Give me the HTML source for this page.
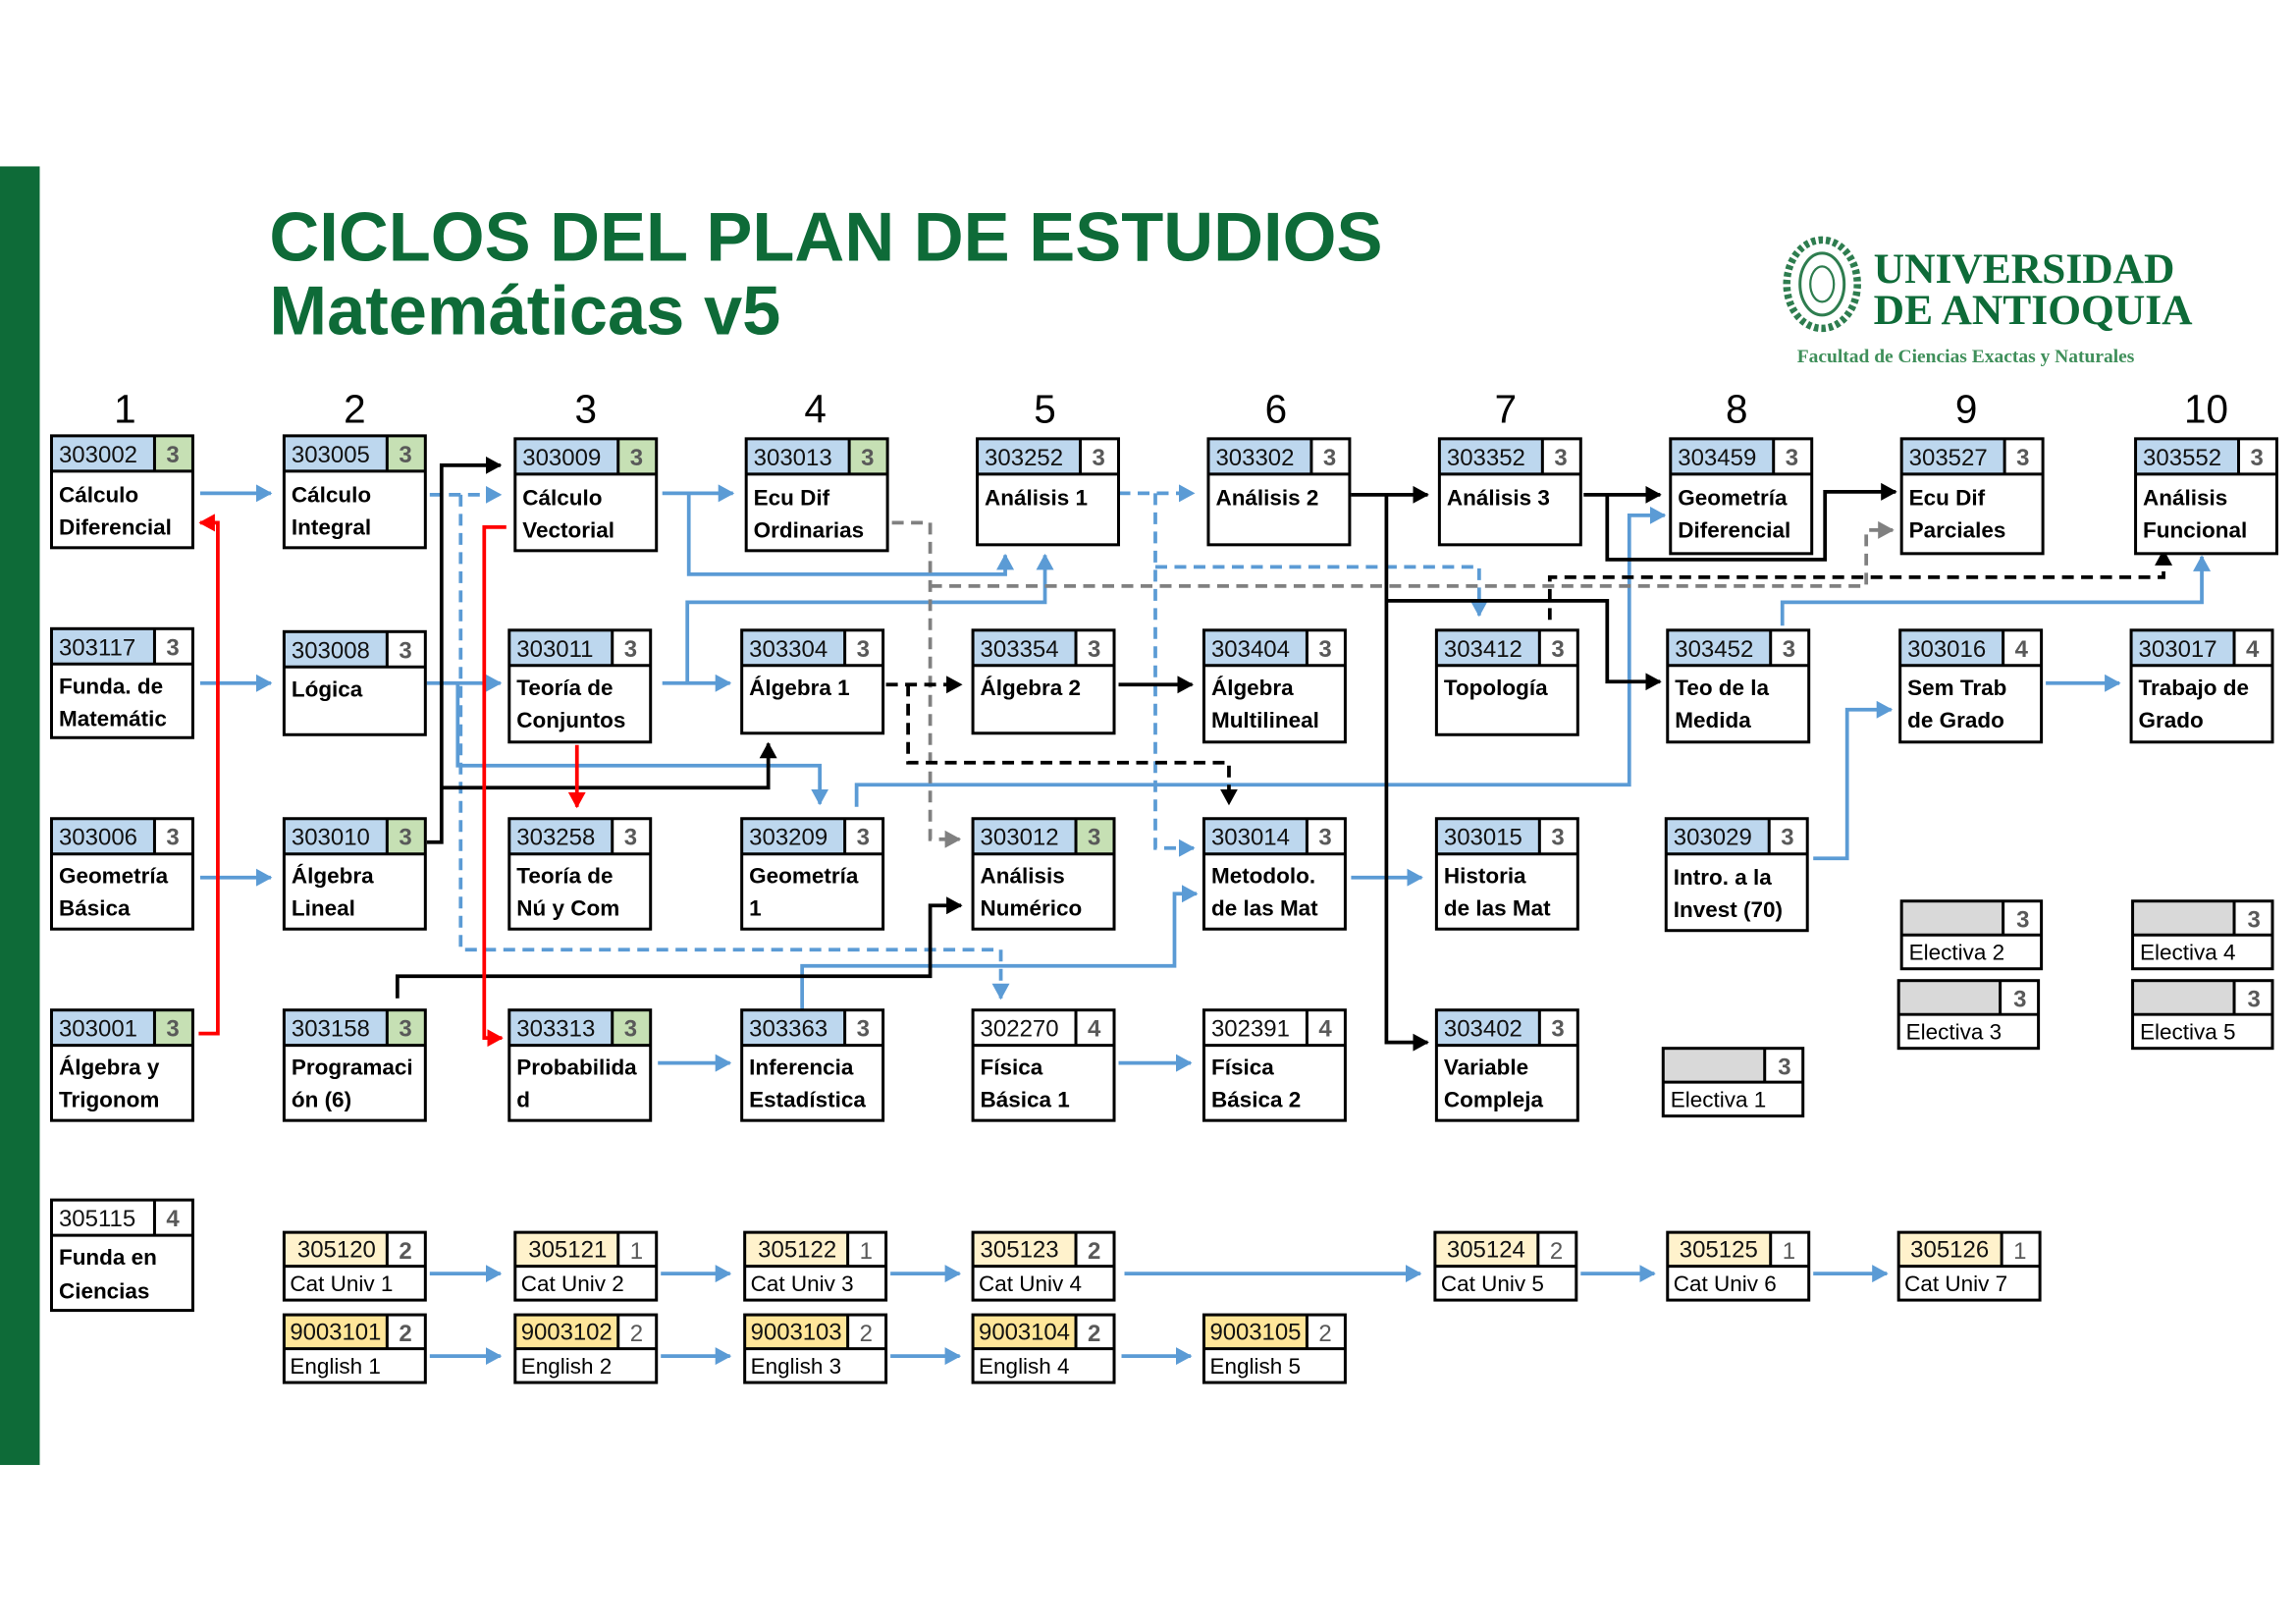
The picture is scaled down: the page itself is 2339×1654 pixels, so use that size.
<!DOCTYPE html>
<html><head><meta charset="utf-8"><style>
html,body{margin:0;padding:0;background:#fff;}
svg{display:block;}
.c{font:16px "Liberation Sans",sans-serif;fill:#111;}
.n{font:bold 16px "Liberation Sans",sans-serif;fill:#595959;}
.nn{font:16px "Liberation Sans",sans-serif;fill:#595959;}
.t{font:bold 15px "Liberation Sans",sans-serif;fill:#000;}
.tn{font:15px "Liberation Sans",sans-serif;fill:#000;}
.o{fill:none;stroke:#000;stroke-width:2;}
.bl{fill:none;stroke:#5b9bd5;stroke-width:2.5;}
.bd{fill:none;stroke:#5b9bd5;stroke-width:2.5;stroke-dasharray:8 5;}
.k{fill:none;stroke:#000;stroke-width:2.5;}
.kd{fill:none;stroke:#000;stroke-width:2.5;stroke-dasharray:8 5;}
.gd{fill:none;stroke:#808080;stroke-width:2.5;stroke-dasharray:8 5;}
.r{fill:none;stroke:#ff0000;stroke-width:2.5;}
</style></head><body>
<svg width="2339" height="1654" viewBox="0 0 1560 1103" preserveAspectRatio="none" xmlns="http://www.w3.org/2000/svg">
<defs>
<marker id="ab" markerUnits="userSpaceOnUse" markerWidth="12" markerHeight="12" refX="10" refY="6" orient="auto"><path d="M0 0L11 6L0 12z" fill="#5b9bd5"/></marker>
<marker id="ak" markerUnits="userSpaceOnUse" markerWidth="12" markerHeight="12" refX="10" refY="6" orient="auto"><path d="M0 0L11 6L0 12z" fill="#000"/></marker>
<marker id="ag" markerUnits="userSpaceOnUse" markerWidth="12" markerHeight="12" refX="10" refY="6" orient="auto"><path d="M0 0L11 6L0 12z" fill="#808080"/></marker>
<marker id="ar" markerUnits="userSpaceOnUse" markerWidth="12" markerHeight="12" refX="10" refY="6" orient="auto"><path d="M0 0L11 6L0 12z" fill="#ff0000"/></marker>
</defs>
<rect x="0" y="113" width="27" height="882" fill="#0e6b38"/>
<text x="183" y="177" style="font:bold 47px 'Liberation Sans',sans-serif;fill:#0e6b38">CICLOS DEL PLAN DE ESTUDIOS</text>
<text x="183" y="227" style="font:bold 47px 'Liberation Sans',sans-serif;fill:#0e6b38">Matemáticas v5</text>
<!-- logo -->
<g transform="translate(1238,193)"><ellipse cx="0" cy="0" rx="24" ry="30" fill="none" stroke="#2e7d4f" stroke-width="5" stroke-dasharray="3 2"/><ellipse cx="0" cy="0" rx="15" ry="21" fill="none" stroke="#2e7d4f" stroke-width="2"/><ellipse cx="0" cy="0" rx="8" ry="12" fill="none" stroke="#2e7d4f" stroke-width="1.5"/></g>
<text x="1273" y="192" style="font:bold 29px 'Liberation Serif',serif;fill:#0e6b38">UNIVERSIDAD</text>
<text x="1273" y="220" style="font:bold 29px 'Liberation Serif',serif;fill:#0e6b38">DE ANTIOQUIA</text>
<text x="1221" y="246" style="font:bold 13px 'Liberation Serif',serif;fill:#3f8f5a">Facultad de Ciencias Exactas y Naturales</text>
<!-- column numbers -->
<g style="font:27px 'Liberation Sans',sans-serif;fill:#000" text-anchor="middle">
<text x="85" y="287">1</text><text x="241" y="287">2</text><text x="398" y="287">3</text><text x="554" y="287">4</text><text x="710" y="287">5</text><text x="867" y="287">6</text><text x="1023" y="287">7</text><text x="1180" y="287">8</text><text x="1336" y="287">9</text><text x="1499" y="287">10</text>
</g>

<!-- CONNECTORS -->
<path class="bl" d="M136 335H184" marker-end="url(#ab)"/>
<path class="bl" d="M136 464H184" marker-end="url(#ab)"/>
<path class="bl" d="M136 596H184" marker-end="url(#ab)"/>
<path class="bl" d="M290 464H340" marker-end="url(#ab)"/>
<path class="bl" d="M311 464V520H557V546" marker-end="url(#ab)"/>
<path class="bl" d="M450 335H498" marker-end="url(#ab)"/>
<path class="bl" d="M468 335V390H683V377" marker-end="url(#ab)"/>
<path class="bl" d="M450 464H496" marker-end="url(#ab)"/>
<path class="bl" d="M467 464V409H710V377" marker-end="url(#ab)"/>
<path class="bl" d="M582 548V533H1107V350H1131" marker-end="url(#ab)"/>
<path class="bl" d="M545 686V656H798V607H813" marker-end="url(#ab)"/>
<path class="bl" d="M918 596H966" marker-end="url(#ab)"/>
<path class="bl" d="M447 722H496" marker-end="url(#ab)"/>
<path class="bl" d="M760 722H809" marker-end="url(#ab)"/>
<path class="bl" d="M1211 425V409H1496V378" marker-end="url(#ab)"/>
<path class="bl" d="M1232 583H1255V482H1285" marker-end="url(#ab)"/>
<path class="bl" d="M1390 464H1440" marker-end="url(#ab)"/>
<path class="bd" d="M292 336H340" marker-end="url(#ab)"/>
<path class="bd" d="M313 336V645H680V678" marker-end="url(#ab)"/>
<path class="bd" d="M760 335H811" marker-end="url(#ab)"/>
<path class="bd" d="M785 335V576H811" marker-end="url(#ab)"/>
<path class="bd" d="M785 385H1005V418" marker-end="url(#ab)"/>
<path class="gd" d="M606 355H632V570H652" marker-end="url(#ag)"/>
<path class="gd" d="M632 398H1268V360H1286" marker-end="url(#ag)"/>
<path class="k" d="M290 572H300V316H340" marker-end="url(#ak)"/>
<path class="k" d="M300 535H522V505" marker-end="url(#ak)"/>
<path class="k" d="M270 678V663H632V615H653" marker-end="url(#ak)"/>
<path class="k" d="M760 465H810" marker-end="url(#ak)"/>
<path class="k" d="M918 336H970" marker-end="url(#ak)"/>
<path class="k" d="M942 336V708H970" marker-end="url(#ak)"/>
<path class="k" d="M942 408H1092V463H1128" marker-end="url(#ak)"/>
<path class="k" d="M1076 336H1128" marker-end="url(#ak)"/>
<path class="k" d="M1092 336V380H1240V334H1288" marker-end="url(#ak)"/>
<path class="kd" d="M602 465H653" marker-end="url(#ak)"/>
<path class="kd" d="M617 465V518H835V546" marker-end="url(#ak)"/>
<path class="kd" d="M1053 421V392H1470V374" marker-end="url(#ak)"/>
<path class="r" d="M135 702H148V355H136" marker-end="url(#ar)"/>
<path class="r" d="M344 358H329V705H341" marker-end="url(#ar)"/>
<path class="r" d="M392 506V548" marker-end="url(#ar)"/>
<!-- bottom chains -->
<path class="bl" d="M292 865H340" marker-end="url(#ab)"/>
<path class="bl" d="M449 865H496" marker-end="url(#ab)"/>
<path class="bl" d="M605 865H652" marker-end="url(#ab)"/>
<path class="bl" d="M764 865H965" marker-end="url(#ab)"/>
<path class="bl" d="M1074 865H1124" marker-end="url(#ab)"/>
<path class="bl" d="M1232 865H1282" marker-end="url(#ab)"/>
<path class="bl" d="M292 921H340" marker-end="url(#ab)"/>
<path class="bl" d="M449 921H496" marker-end="url(#ab)"/>
<path class="bl" d="M605 921H652" marker-end="url(#ab)"/>
<path class="bl" d="M762 921H809" marker-end="url(#ab)"/>

<!-- BOXES -->
<g transform="translate(35,296)"><rect width="96" height="76" fill="#fff"/><rect width="70" height="24" fill="#bdd7ee"/><rect x="70" width="26" height="24" fill="#c6e0b4"/><path d="M0 24H96M70 0V24" class="o"/><rect width="96" height="76" class="o"/><text x="5" y="18" class="c">303002</text><text x="78" y="18" class="n">3</text><text x="5" y="45" class="t">Cálculo</text><text x="5" y="67" class="t">Diferencial</text></g>
<g transform="translate(193,296)"><rect width="96" height="76" fill="#fff"/><rect width="70" height="24" fill="#bdd7ee"/><rect x="70" width="26" height="24" fill="#c6e0b4"/><path d="M0 24H96M70 0V24" class="o"/><rect width="96" height="76" class="o"/><text x="5" y="18" class="c">303005</text><text x="78" y="18" class="n">3</text><text x="5" y="45" class="t">Cálculo</text><text x="5" y="67" class="t">Integral</text></g>
<g transform="translate(350,298)"><rect width="96" height="76" fill="#fff"/><rect width="70" height="24" fill="#bdd7ee"/><rect x="70" width="26" height="24" fill="#c6e0b4"/><path d="M0 24H96M70 0V24" class="o"/><rect width="96" height="76" class="o"/><text x="5" y="18" class="c">303009</text><text x="78" y="18" class="n">3</text><text x="5" y="45" class="t">Cálculo</text><text x="5" y="67" class="t">Vectorial</text></g>
<g transform="translate(507,298)"><rect width="96" height="76" fill="#fff"/><rect width="70" height="24" fill="#bdd7ee"/><rect x="70" width="26" height="24" fill="#c6e0b4"/><path d="M0 24H96M70 0V24" class="o"/><rect width="96" height="76" class="o"/><text x="5" y="18" class="c">303013</text><text x="78" y="18" class="n">3</text><text x="5" y="45" class="t">Ecu Dif</text><text x="5" y="67" class="t">Ordinarias</text></g>
<g transform="translate(664,298)"><rect width="96" height="72" fill="#fff"/><rect width="70" height="24" fill="#bdd7ee"/><rect x="70" width="26" height="24" fill="#fff"/><path d="M0 24H96M70 0V24" class="o"/><rect width="96" height="72" class="o"/><text x="5" y="18" class="c">303252</text><text x="78" y="18" class="n">3</text><text x="5" y="45" class="t">Análisis 1</text></g>
<g transform="translate(821,298)"><rect width="96" height="72" fill="#fff"/><rect width="70" height="24" fill="#bdd7ee"/><rect x="70" width="26" height="24" fill="#fff"/><path d="M0 24H96M70 0V24" class="o"/><rect width="96" height="72" class="o"/><text x="5" y="18" class="c">303302</text><text x="78" y="18" class="n">3</text><text x="5" y="45" class="t">Análisis 2</text></g>
<g transform="translate(978,298)"><rect width="96" height="72" fill="#fff"/><rect width="70" height="24" fill="#bdd7ee"/><rect x="70" width="26" height="24" fill="#fff"/><path d="M0 24H96M70 0V24" class="o"/><rect width="96" height="72" class="o"/><text x="5" y="18" class="c">303352</text><text x="78" y="18" class="n">3</text><text x="5" y="45" class="t">Análisis 3</text></g>
<g transform="translate(1135,298)"><rect width="96" height="78" fill="#fff"/><rect width="70" height="24" fill="#bdd7ee"/><rect x="70" width="26" height="24" fill="#fff"/><path d="M0 24H96M70 0V24" class="o"/><rect width="96" height="78" class="o"/><text x="5" y="18" class="c">303459</text><text x="78" y="18" class="n">3</text><text x="5" y="45" class="t">Geometría</text><text x="5" y="67" class="t">Diferencial</text></g>
<g transform="translate(1292,298)"><rect width="96" height="78" fill="#fff"/><rect width="70" height="24" fill="#bdd7ee"/><rect x="70" width="26" height="24" fill="#fff"/><path d="M0 24H96M70 0V24" class="o"/><rect width="96" height="78" class="o"/><text x="5" y="18" class="c">303527</text><text x="78" y="18" class="n">3</text><text x="5" y="45" class="t">Ecu Dif</text><text x="5" y="67" class="t">Parciales</text></g>
<g transform="translate(1451,298)"><rect width="96" height="78" fill="#fff"/><rect width="70" height="24" fill="#bdd7ee"/><rect x="70" width="26" height="24" fill="#fff"/><path d="M0 24H96M70 0V24" class="o"/><rect width="96" height="78" class="o"/><text x="5" y="18" class="c">303552</text><text x="78" y="18" class="n">3</text><text x="5" y="45" class="t">Análisis</text><text x="5" y="67" class="t">Funcional</text></g>

<g transform="translate(35,427)"><rect width="96" height="74" fill="#fff"/><rect width="70" height="24" fill="#bdd7ee"/><rect x="70" width="26" height="24" fill="#fff"/><path d="M0 24H96M70 0V24" class="o"/><rect width="96" height="74" class="o"/><text x="5" y="18" class="c">303117</text><text x="78" y="18" class="n">3</text><text x="5" y="44" class="t">Funda. de</text><text x="5" y="66" class="t">Matemátic</text></g>
<g transform="translate(193,429)"><rect width="96" height="70" fill="#fff"/><rect width="70" height="24" fill="#bdd7ee"/><rect x="70" width="26" height="24" fill="#fff"/><path d="M0 24H96M70 0V24" class="o"/><rect width="96" height="70" class="o"/><text x="5" y="18" class="c">303008</text><text x="78" y="18" class="n">3</text><text x="5" y="44" class="t">Lógica</text></g>
<g transform="translate(346,428)"><rect width="96" height="76" fill="#fff"/><rect width="70" height="24" fill="#bdd7ee"/><rect x="70" width="26" height="24" fill="#fff"/><path d="M0 24H96M70 0V24" class="o"/><rect width="96" height="76" class="o"/><text x="5" y="18" class="c">303011</text><text x="78" y="18" class="n">3</text><text x="5" y="44" class="t">Teoría de</text><text x="5" y="66" class="t">Conjuntos</text></g>
<g transform="translate(504,428)"><rect width="96" height="70" fill="#fff"/><rect width="70" height="24" fill="#bdd7ee"/><rect x="70" width="26" height="24" fill="#fff"/><path d="M0 24H96M70 0V24" class="o"/><rect width="96" height="70" class="o"/><text x="5" y="18" class="c">303304</text><text x="78" y="18" class="n">3</text><text x="5" y="44" class="t">Álgebra 1</text></g>
<g transform="translate(661,428)"><rect width="96" height="70" fill="#fff"/><rect width="70" height="24" fill="#bdd7ee"/><rect x="70" width="26" height="24" fill="#fff"/><path d="M0 24H96M70 0V24" class="o"/><rect width="96" height="70" class="o"/><text x="5" y="18" class="c">303354</text><text x="78" y="18" class="n">3</text><text x="5" y="44" class="t">Álgebra 2</text></g>
<g transform="translate(818,428)"><rect width="96" height="76" fill="#fff"/><rect width="70" height="24" fill="#bdd7ee"/><rect x="70" width="26" height="24" fill="#fff"/><path d="M0 24H96M70 0V24" class="o"/><rect width="96" height="76" class="o"/><text x="5" y="18" class="c">303404</text><text x="78" y="18" class="n">3</text><text x="5" y="44" class="t">Álgebra</text><text x="5" y="66" class="t">Multilineal</text></g>
<g transform="translate(976,428)"><rect width="96" height="71" fill="#fff"/><rect width="70" height="24" fill="#bdd7ee"/><rect x="70" width="26" height="24" fill="#fff"/><path d="M0 24H96M70 0V24" class="o"/><rect width="96" height="71" class="o"/><text x="5" y="18" class="c">303412</text><text x="78" y="18" class="n">3</text><text x="5" y="44" class="t">Topología</text></g>
<g transform="translate(1133,428)"><rect width="96" height="76" fill="#fff"/><rect width="70" height="24" fill="#bdd7ee"/><rect x="70" width="26" height="24" fill="#fff"/><path d="M0 24H96M70 0V24" class="o"/><rect width="96" height="76" class="o"/><text x="5" y="18" class="c">303452</text><text x="78" y="18" class="n">3</text><text x="5" y="44" class="t">Teo de la</text><text x="5" y="66" class="t">Medida</text></g>
<g transform="translate(1291,428)"><rect width="96" height="76" fill="#fff"/><rect width="70" height="24" fill="#bdd7ee"/><rect x="70" width="26" height="24" fill="#fff"/><path d="M0 24H96M70 0V24" class="o"/><rect width="96" height="76" class="o"/><text x="5" y="18" class="c">303016</text><text x="78" y="18" class="n">4</text><text x="5" y="44" class="t">Sem Trab</text><text x="5" y="66" class="t">de Grado</text></g>
<g transform="translate(1448,428)"><rect width="96" height="76" fill="#fff"/><rect width="70" height="24" fill="#bdd7ee"/><rect x="70" width="26" height="24" fill="#fff"/><path d="M0 24H96M70 0V24" class="o"/><rect width="96" height="76" class="o"/><text x="5" y="18" class="c">303017</text><text x="78" y="18" class="n">4</text><text x="5" y="44" class="t">Trabajo de</text><text x="5" y="66" class="t">Grado</text></g>

<g transform="translate(35,556)"><rect width="96" height="75" fill="#fff"/><rect width="70" height="24" fill="#bdd7ee"/><rect x="70" width="26" height="24" fill="#fff"/><path d="M0 24H96M70 0V24" class="o"/><rect width="96" height="75" class="o"/><text x="5" y="18" class="c">303006</text><text x="78" y="18" class="n">3</text><text x="5" y="44" class="t">Geometría</text><text x="5" y="66" class="t">Básica</text></g>
<g transform="translate(193,556)"><rect width="96" height="75" fill="#fff"/><rect width="70" height="24" fill="#bdd7ee"/><rect x="70" width="26" height="24" fill="#c6e0b4"/><path d="M0 24H96M70 0V24" class="o"/><rect width="96" height="75" class="o"/><text x="5" y="18" class="c">303010</text><text x="78" y="18" class="n">3</text><text x="5" y="44" class="t">Álgebra</text><text x="5" y="66" class="t">Lineal</text></g>
<g transform="translate(346,556)"><rect width="96" height="75" fill="#fff"/><rect width="70" height="24" fill="#bdd7ee"/><rect x="70" width="26" height="24" fill="#fff"/><path d="M0 24H96M70 0V24" class="o"/><rect width="96" height="75" class="o"/><text x="5" y="18" class="c">303258</text><text x="78" y="18" class="n">3</text><text x="5" y="44" class="t">Teoría de</text><text x="5" y="66" class="t">Nú y Com</text></g>
<g transform="translate(504,556)"><rect width="96" height="75" fill="#fff"/><rect width="70" height="24" fill="#bdd7ee"/><rect x="70" width="26" height="24" fill="#fff"/><path d="M0 24H96M70 0V24" class="o"/><rect width="96" height="75" class="o"/><text x="5" y="18" class="c">303209</text><text x="78" y="18" class="n">3</text><text x="5" y="44" class="t">Geometría</text><text x="5" y="66" class="t">1</text></g>
<g transform="translate(661,556)"><rect width="96" height="75" fill="#fff"/><rect width="70" height="24" fill="#bdd7ee"/><rect x="70" width="26" height="24" fill="#c6e0b4"/><path d="M0 24H96M70 0V24" class="o"/><rect width="96" height="75" class="o"/><text x="5" y="18" class="c">303012</text><text x="78" y="18" class="n">3</text><text x="5" y="44" class="t">Análisis</text><text x="5" y="66" class="t">Numérico</text></g>
<g transform="translate(818,556)"><rect width="96" height="75" fill="#fff"/><rect width="70" height="24" fill="#bdd7ee"/><rect x="70" width="26" height="24" fill="#fff"/><path d="M0 24H96M70 0V24" class="o"/><rect width="96" height="75" class="o"/><text x="5" y="18" class="c">303014</text><text x="78" y="18" class="n">3</text><text x="5" y="44" class="t">Metodolo.</text><text x="5" y="66" class="t">de las Mat</text></g>
<g transform="translate(976,556)"><rect width="96" height="75" fill="#fff"/><rect width="70" height="24" fill="#bdd7ee"/><rect x="70" width="26" height="24" fill="#fff"/><path d="M0 24H96M70 0V24" class="o"/><rect width="96" height="75" class="o"/><text x="5" y="18" class="c">303015</text><text x="78" y="18" class="n">3</text><text x="5" y="44" class="t">Historia</text><text x="5" y="66" class="t">de las Mat</text></g>
<g transform="translate(1132,556)"><rect width="96" height="76" fill="#fff"/><rect width="70" height="24" fill="#bdd7ee"/><rect x="70" width="26" height="24" fill="#fff"/><path d="M0 24H96M70 0V24" class="o"/><rect width="96" height="76" class="o"/><text x="5" y="18" class="c">303029</text><text x="78" y="18" class="n">3</text><text x="5" y="45" class="t">Intro. a la</text><text x="5" y="67" class="t">Invest (70)</text></g>

<!-- electivas -->
<g transform="translate(1292,612)"><rect width="95" height="46" fill="#fff"/><rect width="69" height="23" fill="#d9d9d9"/><path d="M0 23H95M69 0V23" class="o"/><rect width="95" height="46" class="o"/><text x="78" y="18" class="n">3</text><text x="5" y="40" class="tn">Electiva 2</text></g>
<g transform="translate(1449,612)"><rect width="95" height="46" fill="#fff"/><rect width="69" height="23" fill="#d9d9d9"/><path d="M0 23H95M69 0V23" class="o"/><rect width="95" height="46" class="o"/><text x="78" y="18" class="n">3</text><text x="5" y="40" class="tn">Electiva 4</text></g>
<g transform="translate(1290,666)"><rect width="95" height="46" fill="#fff"/><rect width="69" height="23" fill="#d9d9d9"/><path d="M0 23H95M69 0V23" class="o"/><rect width="95" height="46" class="o"/><text x="78" y="18" class="n">3</text><text x="5" y="40" class="tn">Electiva 3</text></g>
<g transform="translate(1449,666)"><rect width="95" height="46" fill="#fff"/><rect width="69" height="23" fill="#d9d9d9"/><path d="M0 23H95M69 0V23" class="o"/><rect width="95" height="46" class="o"/><text x="78" y="18" class="n">3</text><text x="5" y="40" class="tn">Electiva 5</text></g>
<g transform="translate(1130,712)"><rect width="95" height="46" fill="#fff"/><rect width="69" height="23" fill="#d9d9d9"/><path d="M0 23H95M69 0V23" class="o"/><rect width="95" height="46" class="o"/><text x="78" y="18" class="n">3</text><text x="5" y="40" class="tn">Electiva 1</text></g>

<g transform="translate(35,686)"><rect width="96" height="75" fill="#fff"/><rect width="70" height="24" fill="#bdd7ee"/><rect x="70" width="26" height="24" fill="#c6e0b4"/><path d="M0 24H96M70 0V24" class="o"/><rect width="96" height="75" class="o"/><text x="5" y="18" class="c">303001</text><text x="78" y="18" class="n">3</text><text x="5" y="44" class="t">Álgebra y</text><text x="5" y="66" class="t">Trigonom</text></g>
<g transform="translate(193,686)"><rect width="96" height="75" fill="#fff"/><rect width="70" height="24" fill="#bdd7ee"/><rect x="70" width="26" height="24" fill="#c6e0b4"/><path d="M0 24H96M70 0V24" class="o"/><rect width="96" height="75" class="o"/><text x="5" y="18" class="c">303158</text><text x="78" y="18" class="n">3</text><text x="5" y="44" class="t">Programaci</text><text x="5" y="66" class="t">ón (6)</text></g>
<g transform="translate(346,686)"><rect width="96" height="75" fill="#fff"/><rect width="70" height="24" fill="#bdd7ee"/><rect x="70" width="26" height="24" fill="#c6e0b4"/><path d="M0 24H96M70 0V24" class="o"/><rect width="96" height="75" class="o"/><text x="5" y="18" class="c">303313</text><text x="78" y="18" class="n">3</text><text x="5" y="44" class="t">Probabilida</text><text x="5" y="66" class="t">d</text></g>
<g transform="translate(504,686)"><rect width="96" height="75" fill="#fff"/><rect width="70" height="24" fill="#bdd7ee"/><rect x="70" width="26" height="24" fill="#fff"/><path d="M0 24H96M70 0V24" class="o"/><rect width="96" height="75" class="o"/><text x="5" y="18" class="c">303363</text><text x="78" y="18" class="n">3</text><text x="5" y="44" class="t">Inferencia</text><text x="5" y="66" class="t">Estadística</text></g>
<g transform="translate(661,686)"><rect width="96" height="75" fill="#fff"/><path d="M0 24H96M70 0V24" class="o"/><rect width="96" height="75" class="o"/><text x="5" y="18" class="c">302270</text><text x="78" y="18" class="n">4</text><text x="5" y="44" class="t">Física</text><text x="5" y="66" class="t">Básica 1</text></g>
<g transform="translate(818,686)"><rect width="96" height="75" fill="#fff"/><path d="M0 24H96M70 0V24" class="o"/><rect width="96" height="75" class="o"/><text x="5" y="18" class="c">302391</text><text x="78" y="18" class="n">4</text><text x="5" y="44" class="t">Física</text><text x="5" y="66" class="t">Básica 2</text></g>
<g transform="translate(976,686)"><rect width="96" height="75" fill="#fff"/><rect width="70" height="24" fill="#bdd7ee"/><rect x="70" width="26" height="24" fill="#fff"/><path d="M0 24H96M70 0V24" class="o"/><rect width="96" height="75" class="o"/><text x="5" y="18" class="c">303402</text><text x="78" y="18" class="n">3</text><text x="5" y="44" class="t">Variable</text><text x="5" y="66" class="t">Compleja</text></g>

<g transform="translate(35,815)"><rect width="96" height="75" fill="#fff"/><path d="M0 24H96M70 0V24" class="o"/><rect width="96" height="75" class="o"/><text x="5" y="18" class="c">305115</text><text x="78" y="18" class="n">4</text><text x="5" y="44" class="t">Funda en</text><text x="5" y="67" class="t">Ciencias</text></g>

<!-- Cat Univ -->
<g transform="translate(193,837)"><rect width="96" height="46" fill="#fff"/><rect width="70" height="23" fill="#fff2cc"/><path d="M0 23H96M70 0V23" class="o"/><rect width="96" height="46" class="o"/><text x="9" y="17" class="c">305120</text><text x="78" y="18" class="n">2</text><text x="4" y="40" class="tn">Cat Univ 1</text></g>
<g transform="translate(350,837)"><rect width="96" height="46" fill="#fff"/><rect width="70" height="23" fill="#fff2cc"/><path d="M0 23H96M70 0V23" class="o"/><rect width="96" height="46" class="o"/><text x="9" y="17" class="c">305121</text><text x="78" y="18" class="nn">1</text><text x="4" y="40" class="tn">Cat Univ  2</text></g>
<g transform="translate(506,837)"><rect width="96" height="46" fill="#fff"/><rect width="70" height="23" fill="#fff2cc"/><path d="M0 23H96M70 0V23" class="o"/><rect width="96" height="46" class="o"/><text x="9" y="17" class="c">305122</text><text x="78" y="18" class="nn">1</text><text x="4" y="40" class="tn">Cat Univ  3</text></g>
<g transform="translate(661,837)"><rect width="96" height="46" fill="#fff"/><rect width="70" height="23" fill="#fff2cc"/><path d="M0 23H96M70 0V23" class="o"/><rect width="96" height="46" class="o"/><text x="5" y="17" class="c">305123</text><text x="78" y="18" class="n">2</text><text x="4" y="40" class="tn">Cat Univ  4</text></g>
<g transform="translate(975,837)"><rect width="96" height="46" fill="#fff"/><rect width="70" height="23" fill="#fff2cc"/><path d="M0 23H96M70 0V23" class="o"/><rect width="96" height="46" class="o"/><text x="8" y="17" class="c">305124</text><text x="78" y="18" class="nn">2</text><text x="4" y="40" class="tn">Cat Univ 5</text></g>
<g transform="translate(1133,837)"><rect width="96" height="46" fill="#fff"/><rect width="70" height="23" fill="#fff2cc"/><path d="M0 23H96M70 0V23" class="o"/><rect width="96" height="46" class="o"/><text x="8" y="17" class="c">305125</text><text x="78" y="18" class="nn">1</text><text x="4" y="40" class="tn">Cat Univ 6</text></g>
<g transform="translate(1290,837)"><rect width="96" height="46" fill="#fff"/><rect width="70" height="23" fill="#fff2cc"/><path d="M0 23H96M70 0V23" class="o"/><rect width="96" height="46" class="o"/><text x="8" y="17" class="c">305126</text><text x="78" y="18" class="nn">1</text><text x="4" y="40" class="tn">Cat Univ 7</text></g>
<!-- English -->
<g transform="translate(193,893)"><rect width="96" height="46" fill="#fff"/><rect width="70" height="23" fill="#ffe699"/><path d="M0 23H96M70 0V23" class="o"/><rect width="96" height="46" class="o"/><text x="4" y="17" class="c" textLength="62">9003101</text><text x="78" y="18" class="n">2</text><text x="4" y="40" class="tn">English 1</text></g>
<g transform="translate(350,893)"><rect width="96" height="46" fill="#fff"/><rect width="70" height="23" fill="#ffe699"/><path d="M0 23H96M70 0V23" class="o"/><rect width="96" height="46" class="o"/><text x="4" y="17" class="c" textLength="62">9003102</text><text x="78" y="18" class="nn">2</text><text x="4" y="40" class="tn">English 2</text></g>
<g transform="translate(506,893)"><rect width="96" height="46" fill="#fff"/><rect width="70" height="23" fill="#ffe699"/><path d="M0 23H96M70 0V23" class="o"/><rect width="96" height="46" class="o"/><text x="4" y="17" class="c" textLength="62">9003103</text><text x="78" y="18" class="nn">2</text><text x="4" y="40" class="tn">English 3</text></g>
<g transform="translate(661,893)"><rect width="96" height="46" fill="#fff"/><rect width="70" height="23" fill="#ffe699"/><path d="M0 23H96M70 0V23" class="o"/><rect width="96" height="46" class="o"/><text x="4" y="17" class="c" textLength="62">9003104</text><text x="78" y="18" class="n">2</text><text x="4" y="40" class="tn">English 4</text></g>
<g transform="translate(818,893)"><rect width="96" height="46" fill="#fff"/><rect width="70" height="23" fill="#ffe699"/><path d="M0 23H96M70 0V23" class="o"/><rect width="96" height="46" class="o"/><text x="4" y="17" class="c" textLength="62">9003105</text><text x="78" y="18" class="nn">2</text><text x="4" y="40" class="tn">English 5</text></g>
</svg>
</body></html>
